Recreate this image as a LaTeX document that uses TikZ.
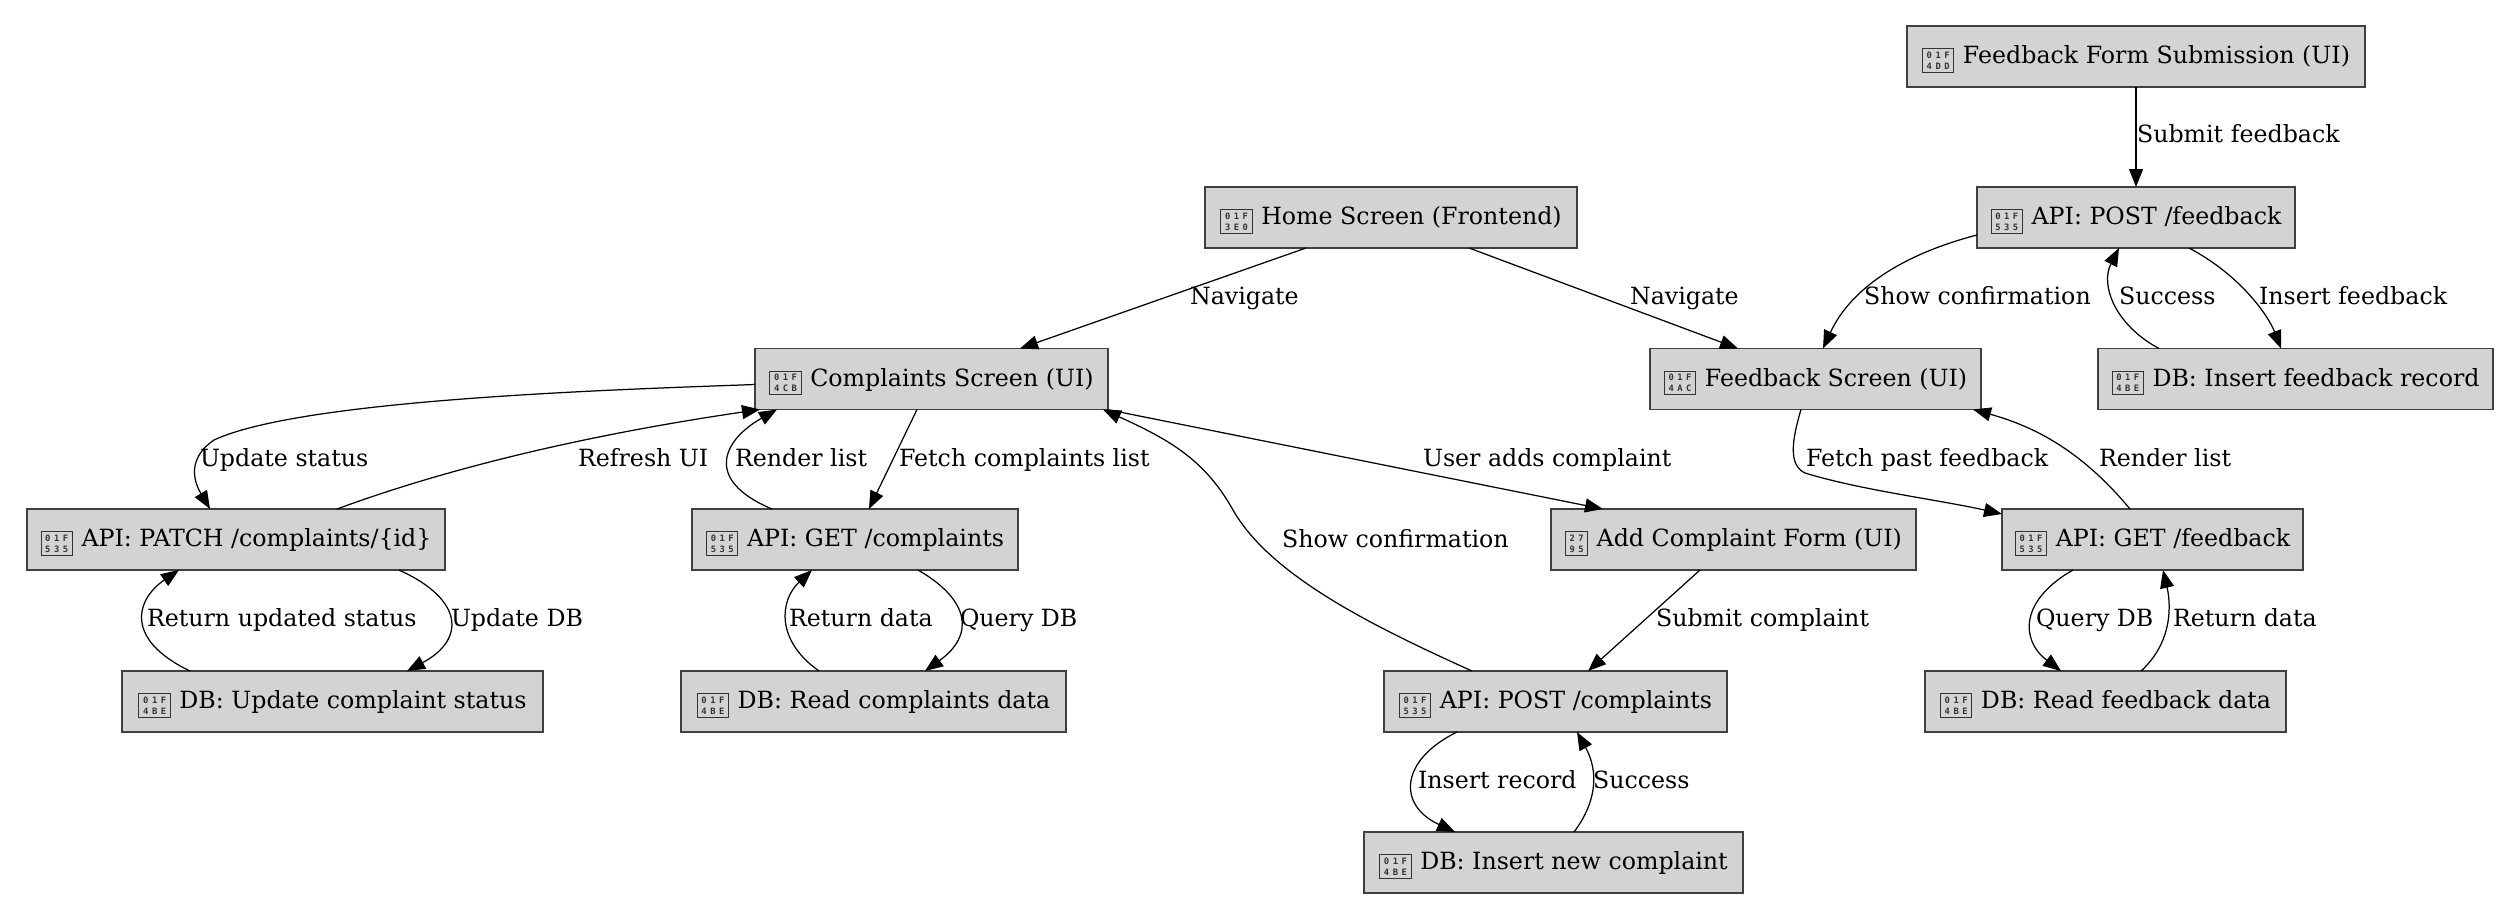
\documentclass[tikz,border=0pt]{standalone}
\usepackage{fontspec}
\setmainfont{DejaVu Serif}
\newfontfamily\tofufont[LetterSpace=40]{DejaVu Sans Mono Bold}
\usetikzlibrary{arrows.meta,calc}
\definecolor{boxgray}{HTML}{D3D3D3}
\newcommand\tofu[3][15.2pt]{\raisebox{-1.5pt}{\setlength\fboxsep{0pt}\setlength\fboxrule{.5pt}\textcolor{black!80}{\fbox{\parbox[c][11.2pt][c]{#1}{\centering\tofufont\fontsize{4.4pt}{5.4pt}\selectfont #2\\#3}}}}\hspace{4.3pt}}
\tikzset{
  box/.style={draw=black!75,fill=boxgray,line width=.8pt,inner sep=0pt,outer sep=0pt,minimum height=30.5pt,text height=9pt,text depth=2pt,font=\fontsize{11.85pt}{14pt}\selectfont},
  lab/.style={anchor=base west,inner sep=0pt,outer sep=0pt,font=\fontsize{11.85pt}{14pt}\selectfont},
  edge/.style={draw=black,line width=.62pt,-{Triangle[length=9pt,width=7pt]}}
}
\begin{document}
\begin{tikzpicture}[x=0.5pt,y=-0.5pt]
\useasboundingbox (0,0) rectangle (2520,920);
% nodes
\node[box,minimum width=229pt] (form) at (2136,56.5) {\tofu{01F}{4DD}Feedback Form Submission (UI)};
\node[box,minimum width=159pt] (postfb) at (2136,217.5) {\tofu{01F}{535}API: POST /feedback};
\node[box,minimum width=186pt] (home) at (1391,217.5) {\tofu{01F}{3E0}Home Screen (Frontend)};
\node[box,minimum width=176.5pt] (cs) at (931.5,379) {\tofu{01F}{4CB}Complaints Screen (UI)};
\node[box,minimum width=165.5pt] (fs) at (1815.5,379) {\tofu{01F}{4AC}Feedback Screen (UI)};
\node[box,minimum width=197.5pt] (dbinsfb) at (2295.5,379) {\tofu{01F}{4BE}DB: Insert feedback record};
\node[box,minimum width=209pt] (patch) at (236,539.5) {\tofu{01F}{535}API: PATCH /complaints/\{id\}};
\node[box,minimum width=163pt] (get) at (855,539.5) {\tofu{01F}{535}API: GET /complaints};
\node[box,minimum width=182.5pt] (add) at (1733.5,539.5) {\tofu[10.5pt]{27}{95}Add Complaint Form (UI)};
\node[box,minimum width=150.5pt] (getfb) at (2152.5,539.5) {\tofu{01F}{535}API: GET /feedback};
\node[box,minimum width=210.5pt] (dbupd) at (332.5,701.5) {\tofu{01F}{4BE}DB: Update complaint status};
\node[box,minimum width=192.5pt] (dbread) at (873.5,701.5) {\tofu{01F}{4BE}DB: Read complaints data};
\node[box,minimum width=171.5pt] (postc) at (1555.5,701.5) {\tofu{01F}{535}API: POST /complaints};
\node[box,minimum width=180.5pt] (dbreadfb) at (2105.5,701.5) {\tofu{01F}{4BE}DB: Read feedback data};
\node[box,minimum width=189.5pt] (dbnew) at (1553.5,862.5) {\tofu{01F}{4BE}DB: Insert new complaint};
% connectors
\draw[edge] ($(home.south west)+(101,0)$) -- ($(cs.north west)+(265,0)$);
\draw[edge] ($(home.south west)+(264,0)$) -- ($(fs.north west)+(88,0)$);
\draw[edge] (form.south) -- (postfb.north);
\draw[edge] ($(postfb.south west)+(0,-13)$) .. controls (1900,255) and (1850,290) .. ($(fs.north west)+(173,0)$);
\draw[edge] ($(dbinsfb.north west)+(61,0)$) .. controls (2115,325) and (2100,285) .. ($(postfb.south west)+(142,0)$);
\draw[edge] ($(postfb.south west)+(212,0)$) .. controls (2240,275) and (2268,315) .. ($(dbinsfb.north west)+(183,0)$);
\draw[edge] ($(cs.south west)+(0,-25)$) .. controls (600,390) and (300,400) .. (214,440) .. controls (192,455) and (190,475) .. ($(patch.north west)+(183,0)$);
\draw[edge] ($(patch.north west)+(310,0)$) .. controls (470,460) and (620,430) .. ($(cs.south west)+(5,0)$);
\draw[edge] ($(get.north west)+(80,0)$) .. controls (703,480) and (723,440) .. ($(cs.south west)+(22,0)$);
\draw[edge] ($(cs.south west)+(162,0)$) -- ($(get.north west)+(177,0)$);
\draw[edge] ($(cs.south east)+(-1,0)$) -- ($(add.north west)+(52,0)$);
\draw[edge] ($(postc.north west)+(88,0)$) .. controls (1370,625) and (1270,575) .. (1233,510) .. controls (1205,460) and (1170,440) .. ($(cs.south east)+(-5,0)$);
\draw[edge] ($(add.south west)+(149,0)$) -- ($(postc.north west)+(204,0)$);
\draw[edge] ($(postc.south west)+(73,0)$) .. controls (1400,760) and (1397,805) .. ($(dbnew.north west)+(91,0)$);
\draw[edge] ($(dbnew.north west)+(210,0)$) .. controls (1598,800) and (1598,770) .. ($(postc.south west)+(193,0)$);
\draw[edge] ($(dbupd.north west)+(68,0)$) .. controls (125,640) and (135,600) .. ($(patch.south west)+(152,0)$);
\draw[edge] ($(patch.south west)+(372,0)$) .. controls (465,600) and (465,640) .. ($(dbupd.north west)+(285,0)$);
\draw[edge] ($(dbread.north west)+(138,0)$) .. controls (775,640) and (780,600) .. ($(get.south west)+(120,0)$);
\draw[edge] ($(get.south west)+(226,0)$) .. controls (970,600) and (975,635) .. ($(dbread.north west)+(244,0)$);
\draw[edge] ($(fs.south west)+(151,0)$) .. controls (1792,440) and (1788,465) .. (1805,473) .. controls (1860,490) and (1940,500) .. ($(getfb.north west)+(0,5)$);
\draw[edge] ($(getfb.north west)+(128,0)$) .. controls (2085,455) and (2040,428) .. ($(fs.south east)+(-8,0)$);
\draw[edge] ($(getfb.south west)+(71,0)$) .. controls (2020,600) and (2020,640) .. ($(dbreadfb.north west)+(136,0)$);
\draw[edge] ($(dbreadfb.north west)+(216,0)$) .. controls (2175,640) and (2170,600) .. ($(getfb.south west)+(161,0)$);
% labels
\node[lab] (l1) at (1190,304) {Navigate};
\node[lab] (l2) at (1630,304) {Navigate};
\node[lab] (l3) at (2137,142) {Submit feedback};
\node[lab] (l4) at (1864,304) {Show confirmation};
\node[lab] (l5) at (2119,304) {Success};
\node[lab] (l6) at (2259,304) {Insert feedback};
\node[lab] (l7) at (200,466) {Update status};
\node[lab] (l8) at (578,466) {Refresh UI};
\node[lab] (l9) at (735,466) {Render list};
\node[lab] (l10) at (899,466) {Fetch complaints list};
\node[lab] (l11) at (1423,466) {User adds complaint};
\node[lab] (l12) at (1806,466) {Fetch past feedback};
\node[lab] (l13) at (2099,466) {Render list};
\node[lab] (l14) at (1282,547) {Show confirmation};
\node[lab] (l15) at (1656,626) {Submit complaint};
\node[lab] (l16) at (147,626) {Return updated status};
\node[lab] (l17) at (451,626) {Update DB};
\node[lab] (l18) at (789,626) {Return data};
\node[lab] (l19) at (960,626) {Query DB};
\node[lab] (l20) at (2036,626) {Query DB};
\node[lab] (l21) at (2173,626) {Return data};
\node[lab] (l22) at (1418,788) {Insert record};
\node[lab] (l23) at (1593,788) {Success};
\end{tikzpicture}
\end{document}
